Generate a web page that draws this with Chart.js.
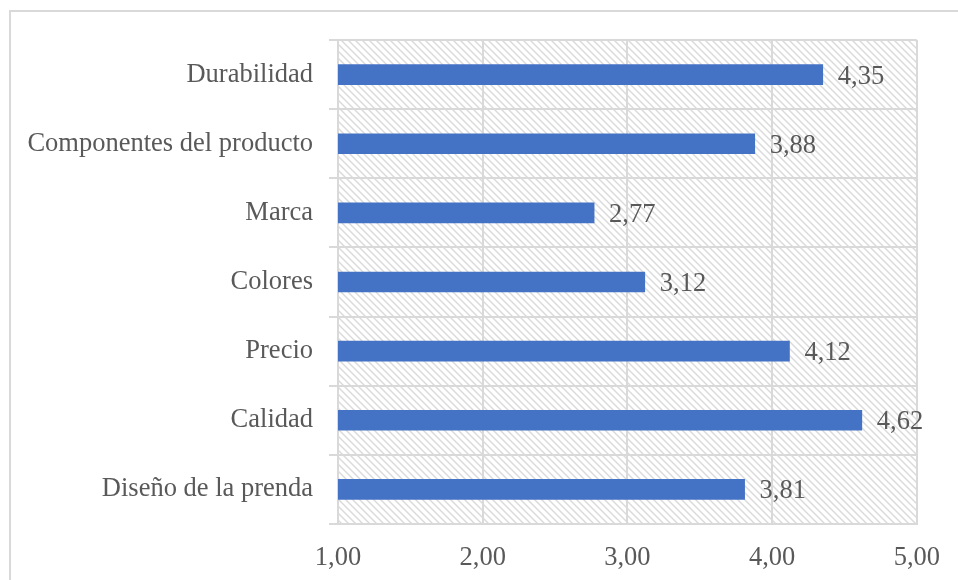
<!DOCTYPE html>
<html>
<head>
<meta charset="utf-8">
<script src="https://cdn.jsdelivr.net/npm/chart.js@4"></script>
<style>
  body { margin: 0; background: #fff; }
  #wrap { position: relative; width: 958px; height: 580px; overflow: hidden; }
  #frame { position: absolute; left: 9px; top: 10px; width: 1000px; height: 700px;
           border-top: 2px solid #d9d9d9; border-left: 2px solid #d9d9d9; }
  canvas { position: absolute; left: 0; top: 0; }
</style>
</head>
<body>
<div id="wrap">
  <div id="frame"></div>
  <canvas id="chart" width="958" height="580"></canvas>
</div>
<script>
// categories top to bottom
const categories = [
  "Durabilidad",
  "Componentes del producto",
  "Marca",
  "Colores",
  "Precio",
  "Calidad",
  "Diseño de la prenda",
];
const scores = [4.35, 3.88, 2.77, 3.12, 4.12, 4.62, 3.81];
const xTicks = [1, 2, 3, 4, 5];

const fmt = (v) => Number(v).toFixed(2).replace(".", ",");
const textColor = "#595959";
const gridColor = "#d9d9d9";
const font = { family: "'Liberation Serif', 'Times New Roman', serif", size: 26.5 };

// hatched plot background
function makePattern() {
  const n = 7;
  const c = document.createElement("canvas");
  c.width = n;
  c.height = n;
  const g = c.getContext("2d");
  g.fillStyle = "#fff";
  g.fillRect(0, 0, n, n);
  g.strokeStyle = "#dadada";
  g.lineWidth = 1.4;
  for (const o of [-n, 0, n]) {
    g.beginPath();
    g.moveTo(o - 1, -1);
    g.lineTo(o + n + 1, n + 1);
    g.stroke();
  }
  return g.createPattern(c, "repeat");
}

const hatch = {
  id: "hatch",
  beforeDraw(chart) {
    const { ctx, chartArea: a } = chart;
    ctx.save();
    ctx.fillStyle = makePattern();
    ctx.fillRect(a.left, a.top, a.right - a.left, a.bottom - a.top);
    ctx.restore();
  },
};

const valueLabels = {
  id: "valueLabels",
  afterDatasetsDraw(chart) {
    const { ctx } = chart;
    const meta = chart.getDatasetMeta(0);
    ctx.save();
    ctx.font = font.size + "px " + font.family;
    ctx.fillStyle = textColor;
    ctx.textAlign = "left";
    ctx.textBaseline = "middle";
    meta.data.forEach((bar, i) => {
      ctx.fillText(fmt(scores[i]), bar.x + 15, bar.y + 2);
    });
    ctx.restore();
  },
};

new Chart(document.getElementById("chart").getContext("2d"), {
  type: "bar",
  data: {
    labels: categories,
    datasets: [
      {
        data: scores,
        backgroundColor: "#4472c4",
        borderWidth: 0,
        barThickness: 20,
      },
    ],
  },
  options: {
    indexAxis: "y",
    responsive: false,
    animation: false,
    layout: { padding: { top: 40, right: 41, left: 0, bottom: 0 } },
    plugins: { legend: { display: false }, tooltip: { enabled: false } },
    scales: {
      x: {
        min: 1,
        max: 5,
        afterBuildTicks: (s) => { s.ticks = xTicks.map((v) => ({ value: v })); },
        afterFit: (s) => { s.height = 56; },
        ticks: { color: textColor, font: font, padding: 18, callback: (v) => fmt(v) },
        grid: { color: gridColor, lineWidth: 2, drawTicks: false },
        border: { color: gridColor, width: 2 },
      },
      y: {
        afterFit: (s) => { s.width = 338; },
        ticks: { color: textColor, font: font, padding: 16 },
        grid: { color: gridColor, lineWidth: 2, offset: true, tickLength: 9 },
        border: { color: gridColor, width: 2 },
      },
    },
  },
  plugins: [hatch, valueLabels],
});
</script>
</body>
</html>
